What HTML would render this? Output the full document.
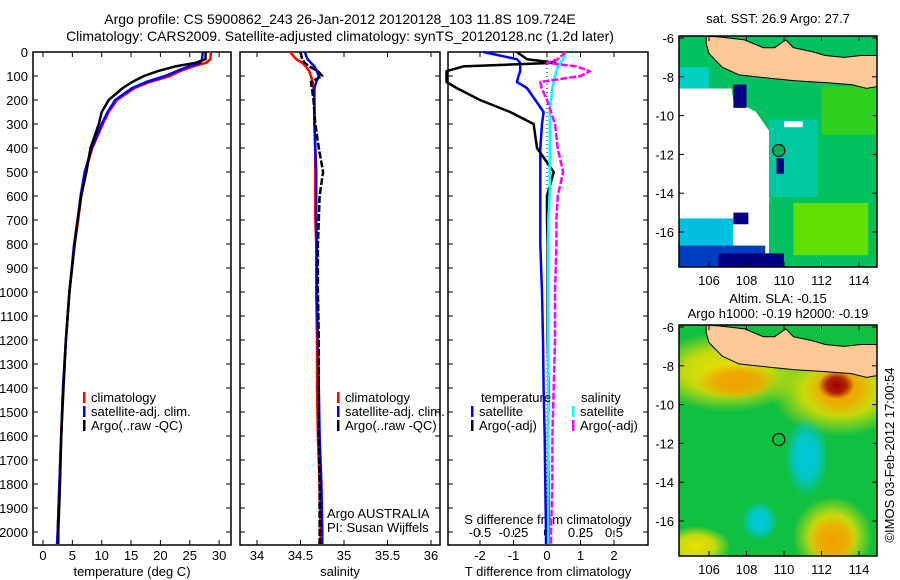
<!DOCTYPE html>
<html><head><meta charset="utf-8"><style>
body{margin:0;background:#fff}
svg{display:block;font-family:"Liberation Sans",sans-serif}
text{font-size:13px;fill:#000}
</style></head><body>
<svg id="c" width="900" height="580" viewBox="0 0 900 580">
<text x="340" y="24" text-anchor="middle" style="font-size:14px">Argo profile: CS 5900862_243 26-Jan-2012 20120128_103 11.8S 109.724E</text>
<text x="340" y="41" text-anchor="middle" style="font-size:14px">Climatology: CARS2009. Satellite-adjusted climatology: synTS_20120128.nc (1.2d later)</text>
<text transform="translate(894,455) rotate(-90)" text-anchor="middle">©IMOS 03-Feb-2012 17:00:54</text>
<g id="maps"></g>
<g id="plots"></g>
</svg>
<script>
// ---------- data ----------
const depths = [0,30,45,60,80,100,125,150,200,250,300,400,500,600,700,800,1000,1200,1400,1600,1800,2000,2050];
const tempClim = [28.6,28.5,27.8,25.5,23.3,21.6,18.2,15.6,12.6,11.2,10.2,8.4,7.2,6.5,6.0,5.4,4.5,3.9,3.4,3.1,2.8,2.5,2.4];
const tempSat  = [27.2,27.1,26.8,24.8,22.8,20.8,17.6,15.2,12.3,11.0,10.0,8.3,7.1,6.4,5.9,5.3,4.5,3.9,3.4,3.1,2.8,2.5,2.4];
const tempArgo = [27.7,27.7,26.0,22.5,19.5,17.2,15.2,13.6,11.2,10.0,9.5,8.1,7.4,6.5,5.9,5.4,4.5,3.9,3.5,3.1,2.9,2.6,2.6];
const salClim = [34.38,34.45,34.52,34.56,34.6,34.62,34.64,34.65,34.66,34.66,34.66,34.67,34.67,34.67,34.67,34.68,34.68,34.69,34.69,34.7,34.72,34.73,34.73];
const salSat  = [34.55,34.58,34.62,34.66,34.69,34.71,34.68,34.66,34.66,34.66,34.66,34.67,34.68,34.68,34.68,34.69,34.69,34.7,34.71,34.72,34.74,34.75,34.75];
const salArgo = [34.5,34.52,34.55,34.6,34.7,34.75,34.62,34.63,34.65,34.66,34.67,34.71,34.76,34.72,34.71,34.7,34.7,34.71,34.71,34.71,34.72,34.72,34.72];
const tDiffArgo = [-0.9,-0.6,0.25,-2.5,-3.0,-3.0,-3.0,-2.7,-2.0,-1.1,-0.4,-0.3,0.2,0.0,0.0,0.02,0.02,0.02,0.05,0.03,0.05,0.05,0.05];
const tDiffSat  = [-1.9,-0.9,-0.8,-0.8,-0.8,-0.85,-0.9,-0.6,-0.35,-0.1,-0.15,-0.2,-0.2,-0.2,-0.2,-0.2,-0.15,-0.12,-0.1,-0.07,-0.05,-0.03,-0.03];
const sDiffArgo = [0.14,0.08,0.0,0.22,0.32,0.25,-0.05,-0.04,0.0,0.03,0.06,0.08,0.12,0.08,0.07,0.07,0.06,0.06,0.05,0.04,0.04,0.03,0.03];
const sDiffSat  = [0.14,0.12,0.1,0.08,0.07,0.06,0.05,0.04,0.03,0.02,0.02,0.02,0.02,0.02,0.01,0.01,0.01,0.01,0.01,0.01,0.01,0.01,0.01];
const depthTicks = [0,100,200,300,400,500,600,700,800,900,1000,1100,1200,1300,1400,1500,1600,1700,1800,1900,2000];
const tempTicks = [0,5,10,15,20,25,30];
const salTicks = [34,34.5,35,35.5,36];
const sDiffTicks = [-0.5,-0.25,0,0.25,0.5];
const tDiffTicks = [-2,-1,0,1,2];
const lonTicks = [106,108,110,112,114];
const latTicks = [-6,-8,-10,-12,-14,-16];
const argoLon = 109.724, argoLat = -11.8;

// ---------- helpers ----------
const NS="http://www.w3.org/2000/svg";
function mk(tag,attrs,parent){const e=document.createElementNS(NS,tag);for(const k in attrs)e.setAttribute(k,attrs[k]);parent.appendChild(e);return e;}
const plots=document.getElementById('plots'), maps=document.getElementById('maps');
const yD = d => 52 + d*0.24;
const PT=52,PB=545;
function txt(x,y,s,anchor,parent,name){const t=mk('text',{x:x,y:y,'text-anchor':anchor||'middle'},parent);t.textContent=s;

return t;}
function frame(x0,x1,name){const r=mk('rect',{x:x0,y:PT,width:x1-x0,height:PB-PT,fill:'none',stroke:'#000','stroke-width':1.5},plots);

}
function line(vals,xf,color,w,name,dash){const pts=vals.map((v,i)=>xf(v).toFixed(1)+','+yD(depths[i]).toFixed(1)).join(' ');
const p=mk('polyline',{points:pts,fill:'none',stroke:color,'stroke-width':w,'stroke-linejoin':'round'},plots);
if(dash)p.setAttribute('stroke-dasharray',dash);

}
function xticks(ticks,xf,y,labels){ticks.forEach((t,i)=>{mk('line',{x1:xf(t),x2:xf(t),y1:PB,y2:PB-5,stroke:'#000'},plots);mk('line',{x1:xf(t),x2:xf(t),y1:PT,y2:PT+5,stroke:'#000'},plots);
txt(xf(t),y,labels?labels[i]:String(t),'middle',plots,'x-tick-label');});}

// ---------- panel 1 temperature ----------
const xT=v=>43+v*5.87;
frame(33,231,'temperature-panel');
depthTicks.forEach(d=>{mk('line',{x1:33,x2:38,y1:yD(d),y2:yD(d),stroke:'#000'},plots);mk('line',{x1:231,x2:226,y1:yD(d),y2:yD(d),stroke:'#000'},plots);
txt(28,yD(d)+5,String(d),'end',plots,'depth-tick-label');});
xticks(tempTicks,xT,560);
txt(132,576,'temperature (deg C)','middle',plots,'x-axis-title-temperature');
line(tempClim,xT,'#f00',2.5,'temp-climatology-line');
line(tempSat,xT,'#00f',2.5,'temp-satellite-line');
line(tempArgo,xT,'#000',2.5,'temp-argo-line');
function legend(x,y,items,name){items.forEach((it,i)=>{const yy=y+i*14;mk('rect',{x:x,y:yy-10,width:2.5,height:11,fill:it[1]},plots);
txt(x+8,yy,it[0],'start',plots,name);});}
legend(83,402,[['climatology','#f00'],['satellite-adj. clim.','#00f'],['Argo(..raw -QC)','#000']],'legend-entry');

// ---------- panel 2 salinity ----------
const xS=v=>257+(v-34)*87;
frame(240,440,'salinity-panel');
depthTicks.forEach(d=>{mk('line',{x1:240,x2:245,y1:yD(d),y2:yD(d),stroke:'#000'},plots);mk('line',{x1:440,x2:435,y1:yD(d),y2:yD(d),stroke:'#000'},plots);});
xticks(salTicks,xS,560);
txt(340,576,'salinity','middle',plots,'x-axis-title-salinity');
line(salClim,xS,'#f00',2.5,'sal-climatology-line');
line(salSat,xS,'#00f',2.5,'sal-satellite-line');
line(salArgo,xS,'#000',2.5,'sal-argo-line','7,2');
legend(337,402,[['climatology','#f00'],['satellite-adj. clim.','#00f'],['Argo(..raw -QC)','#000']],'legend-entry');
txt(327,518,'Argo AUSTRALIA','start',plots,'credit-argo-australia');
txt(327,532,'PI: Susan Wijffels','start',plots,'credit-pi');

// ---------- panel 3 differences ----------
const xTd=v=>547+Math.max(-3,v)*33.5;
const xSd=v=>547+v*134;
frame(448,648,'difference-panel');
depthTicks.forEach(d=>{mk('line',{x1:448,x2:453,y1:yD(d),y2:yD(d),stroke:'#000'},plots);mk('line',{x1:648,x2:643,y1:yD(d),y2:yD(d),stroke:'#000'},plots);});
tDiffTicks.forEach(t=>{mk('line',{x1:xTd(t),x2:xTd(t),y1:PB,y2:PB-5,stroke:'#000'},plots);mk('line',{x1:xTd(t),x2:xTd(t),y1:PT,y2:PT+5,stroke:'#000'},plots);
txt(xTd(t),560,String(t),'middle',plots,'t-diff-tick-label');});
sDiffTicks.forEach(t=>{mk('line',{x1:xSd(t),x2:xSd(t),y1:PB-10,y2:PB-15,stroke:'#000'},plots);
txt(xSd(t),537,String(t),'middle',plots,'s-diff-tick-label');});
txt(548,524,'S difference from climatology','middle',plots,'s-diff-axis-title');
txt(548,576,'T difference from climatology','middle',plots,'t-diff-axis-title');
mk('line',{x1:547,x2:547,y1:PT,y2:PB,stroke:'#000','stroke-dasharray':'1,3'},plots);
line(tDiffSat,xTd,'#00f',2.5,'t-diff-satellite-line');
line(tDiffArgo,xTd,'#000',2.5,'t-diff-argo-line');
line(sDiffSat,xSd,'#0ff',2.5,'s-diff-satellite-line');
line(sDiffArgo,xSd,'#f0f',2.5,'s-diff-argo-line','7,2');
txt(481,402,'temperature','start',plots,'legend-header-temperature');
txt(581,402,'salinity','start',plots,'legend-header-salinity');
legend(471,416,[['satellite','#00f'],['Argo(-adj)','#000']],'legend-entry');
legend(572,416,[['satellite','#0ff'],['Argo(-adj)','#f0f']],'legend-entry');

// ---------- maps ----------
const mX=lon=>709+(lon-106)*18.75;
const javaPts=[[105.85,-5.9],[106.6,-5.95],[107.9,-6.1],[108.9,-6.5],[109.5,-6.5],[110.1,-6.1],[110.5,-6.5],[111.5,-6.7],[112.2,-6.9],[113.2,-7.0],[114.1,-6.9],[115,-6.9],[115,-8.5],[114.4,-8.6],[113.6,-8.4],[112.2,-8.3],[110.6,-8.2],[109.5,-8.1],[108.5,-8.0],[107.6,-7.9],[106.7,-7.5],[106.0,-6.8],[105.85,-6.3]];
function drawMap(top,name,title1,title2,kind){
 const g=mk('g',{},maps);
 
 
 const mY=lat=>top+2+(-6-lat)*19.4;
 const L=679,R=877,B=top+231;
 mk('clipPath',{id:'cp'+kind},g).appendChild(document.createElementNS(NS,'rect'));
 const cr=g.lastChild.firstChild;cr.setAttribute('x',L);cr.setAttribute('y',top);cr.setAttribute('width',R-L);cr.setAttribute('height',B-top);
 const inner=mk('g',{'clip-path':'url(#cp'+kind+')'},g);
 if(kind==='sst'){
  mk('rect',{x:L,y:top,width:R-L,height:B-top,fill:'#fff'},inner);
  mk('polygon',{points:`${L},${top} ${R},${top} ${R},${B} ${mX(109.2)},${B} ${mX(109.2)},${mY(-14.5)} ${mX(109.5)},${mY(-11.2)} ${mX(108.5)},${mY(-9.8)} ${mX(107.3)},${mY(-9.2)} ${mX(107.2)},${mY(-8.6)} ${L},${mY(-8.6)}`,fill:'#00c060'},inner);
  mk('rect',{x:mX(110.5),y:mY(-14.5),width:mX(114.5)-mX(110.5),height:mY(-17.2)-mY(-14.5),fill:'#60e000'},inner);
  mk('rect',{x:mX(112),y:mY(-8.5),width:mX(115)-mX(112),height:mY(-11)-mY(-8.5),fill:'#30d020'},inner);
  mk('rect',{x:mX(109.2),y:mY(-10.2),width:mX(111.8)-mX(109.2),height:mY(-14.2)-mY(-10.2),fill:'#00c8a0'},inner);
  mk('rect',{x:L,y:mY(-7.5),width:mX(106)-L,height:mY(-8.6)-mY(-7.5),fill:'#00d0c0'},inner);
  mk('rect',{x:L,y:mY(-15.3),width:mX(107.3)-L,height:B-mY(-15.3),fill:'#00c0e0'},inner);
  mk('rect',{x:L,y:mY(-16.7),width:mX(109)-L,height:B-mY(-16.7),fill:'#0040c0'},inner);
  mk('rect',{x:mX(106.5),y:mY(-17.1),width:mX(110)-mX(106.5),height:B-mY(-17.1),fill:'#000080'},inner);
  mk('rect',{x:mX(107.3),y:mY(-15.0),width:mX(108.1)-mX(107.3),height:mY(-15.6)-mY(-15.0),fill:'#000080'},inner);
  mk('rect',{x:mX(107.3),y:mY(-8.4),width:mX(108)-mX(107.3),height:mY(-9.6)-mY(-8.4),fill:'#000080'},inner);
  mk('rect',{x:mX(109.6),y:mY(-12.2),width:mX(110)-mX(109.6),height:mY(-13)-mY(-12.2),fill:'#000080'},inner);
  mk('rect',{x:mX(110),y:mY(-10.3),width:mX(111)-mX(110),height:mY(-10.6)-mY(-10.3),fill:'#fff'},inner);
 } else {
  mk('rect',{x:L,y:top,width:R-L,height:B-top,fill:'#10c040'},inner);
  const defs=mk('defs',{},inner);
  [['gy','#f0e000'],['gr','#a00000'],['gc','#00c8e0'],['go','#f0a000']].forEach(([id,c])=>{const rg=mk('radialGradient',{id:id},defs);
   mk('stop',{offset:'0','stop-color':c,'stop-opacity':1},rg);mk('stop',{offset:'0.55','stop-color':c,'stop-opacity':0.8},rg);mk('stop',{offset:'1','stop-color':c,'stop-opacity':0},rg);});
  mk('ellipse',{cx:mX(107),cy:mY(-8.3),rx:80,ry:40,fill:'url(#gy)'},inner);
  mk('ellipse',{cx:mX(113),cy:mY(-9.3),rx:70,ry:45,fill:'url(#gy)'},inner);
  mk('ellipse',{cx:mX(107.5),cy:mY(-8.8),rx:40,ry:18,fill:'url(#go)'},inner);
  mk('ellipse',{cx:mX(113),cy:mY(-9.2),rx:35,ry:28,fill:'url(#go)'},inner);
  mk('ellipse',{cx:mX(112.8),cy:mY(-9),rx:18,ry:14,fill:'url(#gr)'},inner);
  mk('ellipse',{cx:mX(111.2),cy:mY(-12.7),rx:22,ry:40,fill:'url(#gc)'},inner);
  mk('ellipse',{cx:mX(108.7),cy:mY(-16),rx:18,ry:20,fill:'url(#gc)'},inner);
  mk('ellipse',{cx:mX(112.6),cy:mY(-16.8),rx:40,ry:40,fill:'url(#gy)'},inner);
  mk('ellipse',{cx:mX(112.6),cy:mY(-17),rx:25,ry:25,fill:'url(#go)'},inner);
  mk('ellipse',{cx:mX(105.3),cy:mY(-17.3),rx:35,ry:20,fill:'url(#gy)'},inner);
 }
 const land=mk('polygon',{points:javaPts.map(p=>mX(p[0]).toFixed(1)+','+mY(p[1]).toFixed(1)).join(' '),fill:'#fcc896',stroke:'#000','stroke-width':1},inner);
 
 
 mk('rect',{x:L,y:top,width:R-L,height:B-top,fill:'none',stroke:'#000','stroke-width':1.5},g);
 lonTicks.forEach(l=>{mk('line',{x1:mX(l),x2:mX(l),y1:B,y2:B-5,stroke:'#000'},g);mk('line',{x1:mX(l),x2:mX(l),y1:top,y2:top+5,stroke:'#000'},g);
  txt(mX(l),B+18,String(l),'middle',g,'lon-tick-label');});
 latTicks.forEach(l=>{mk('line',{x1:L,x2:L+5,y1:mY(l),y2:mY(l),stroke:'#000'},g);mk('line',{x1:R,x2:R-5,y1:mY(l),y2:mY(l),stroke:'#000'},g);
  txt(L-5,mY(l)+5,String(l),'end',g,'lat-tick-label');});
 const c=mk('circle',{cx:mX(argoLon),cy:mY(argoLat),r:6,fill:kind==='sst'?'#00b060':'none',stroke:'#000','stroke-width':1.2},g);
 
 
 if(title2){txt(778,top-22,title1,'middle',g,'map-title');txt(778,top-7,title2,'middle',g,'map-subtitle');}
 else txt(778,top-13,title1,'middle',g,'map-title');
}
drawMap(36,'sst-map','sat. SST: 26.9 Argo: 27.7',null,'sst');
drawMap(325,'sla-map','Altim. SLA: -0.15','Argo h1000: -0.19 h2000: -0.19','sla');
</script>
</body></html>
